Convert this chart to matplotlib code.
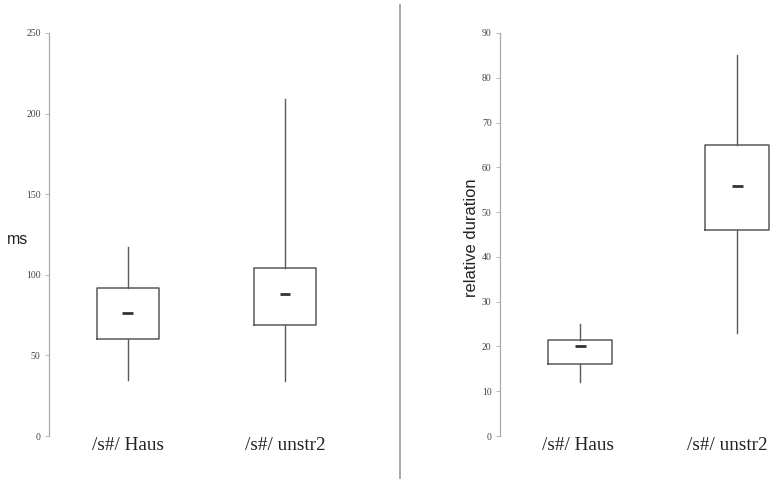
#!/usr/bin/env python3
"""Box plots of /s#/ durations: absolute (ms) and relative."""

import matplotlib.pyplot as plt
from matplotlib.lines import Line2D
from matplotlib.transforms import offset_copy

W, H = 770, 479

categories = ["/s#/ Haus", "/s#/ unstr2"]

# absolute duration (ms)
ms_whislo = [35, 34]
ms_q1 = [60, 69]
ms_med = [76, 88]
ms_q3 = [92, 104]
ms_whishi = [117, 209]
ms_ticks = [0, 50, 100, 150, 200, 250]

# relative duration
rel_whislo = [12, 23]
rel_q1 = [16, 46]
rel_med = [20.2, 55.8]
rel_q3 = [21.4, 65]
rel_whishi = [25, 85]
rel_ticks = [0, 10, 20, 30, 40, 50, 60, 70, 80, 90]

LINE = "#5a5a5a"
SERIF = "Liberation Serif"
SANS = "Liberation Sans"


def px_axes(fig, left, top, right, bottom):
    return fig.add_axes([left / W, 1 - bottom / H, (right - left) / W, (bottom - top) / H])


def draw_panel(ax, lo, q1, med, q3, hi, ticks, xlim, width, label_shift=(0, 0)):
    stats = []
    for i, name in enumerate(categories):
        stats.append(dict(label=name, whislo=lo[i], q1=q1[i], med=med[i],
                          q3=q3[i], whishi=hi[i], fliers=[]))
    pos = [1, 2]
    ax.bxp(stats, positions=pos, widths=width, showcaps=False, showfliers=False,
           boxprops=dict(color=LINE, linewidth=1.1),
           whiskerprops=dict(color=LINE, linewidth=1.0),
           medianprops=dict(visible=False))
    ax.hlines(med, [p - 0.035 for p in pos], [p + 0.035 for p in pos],
              color="#333333", linewidth=2.0)
    ax.set_xlim(*xlim)
    ax.set_ylim(ticks[0], ticks[-1])
    ax.set_yticks(ticks)
    ax.set_yticklabels([str(t) for t in ticks], fontsize=7, family=SERIF,
                       color="#444444")
    ax.tick_params(axis="y", length=3, width=0.6, color="#aaaaaa", pad=3)
    ax.set_xticks([])
    # category names under each box
    for p, name, dx in zip(pos, categories, label_shift):
        tr = offset_copy(ax.get_xaxis_transform(), fig=ax.figure, x=dx, y=-10, units="dots")
        ax.text(p, 0, name, transform=tr, ha="center", va="center",
                fontsize=13.8, family=SERIF, color="#222222", clip_on=False)
    for s in ("top", "right", "bottom"):
        ax.spines[s].set_visible(False)
    ax.spines["left"].set_color("#aaaaaa")
    ax.spines["left"].set_linewidth(0.9)
    ax.patch.set_alpha(0)


fig = plt.figure(figsize=(W / 100, H / 100), dpi=100)

ax1 = px_axes(fig, 49, 33, 380, 436)
draw_panel(ax1, ms_whislo, ms_q1, ms_med, ms_q3, ms_whishi, ms_ticks,
           (0.497, 2.605), 0.40)
fig.text(7 / W, 1 - 239 / H, "ms", family=SANS, fontsize=11.5, color="#222222",
         ha="left", va="center")

ax2 = px_axes(fig, 500, 33, 770, 436)
draw_panel(ax2, rel_whislo, rel_q1, rel_med, rel_q3, rel_whishi, rel_ticks,
           (0.49, 2.21), 0.41, label_shift=(-2, -10))
fig.text(472 / W, 1 - 238 / H, "relative duration", family=SANS, fontsize=11.9,
         color="#222222", rotation=90, ha="center", va="center")

# divider between the two panels
fig.add_artist(Line2D([400 / W, 400 / W], [0, 1 - 5 / H], color="#a0a0a0",
                      linewidth=1.3, transform=fig.transFigure))

fig.savefig("out.png", dpi=100)
